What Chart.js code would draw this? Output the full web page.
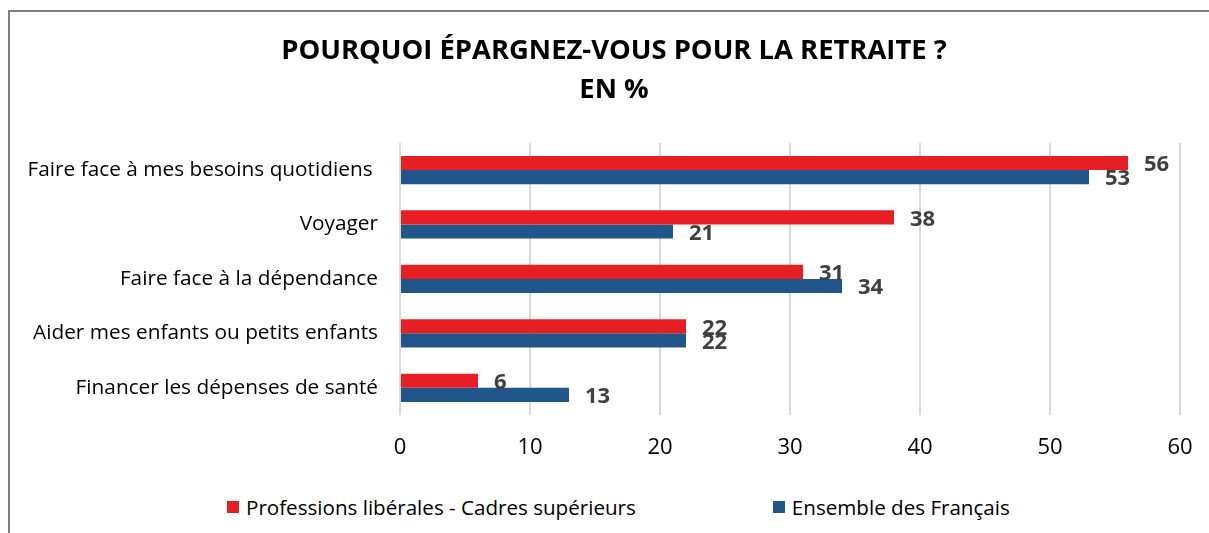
<!DOCTYPE html>
<html lang="fr">
<head>
    <meta charset="UTF-8">
    <title>Pourquoi épargnez-vous pour la retraite ?</title>
    <script src="https://cdn.jsdelivr.net/npm/chart.js"></script>
    <style>
        body {
            margin: 0;
            font-family: "Open Sans", Arial, sans-serif;
            background: #fff;
        }
        #wrap {
            position: relative;
            width: 1209px;
            height: 533px;
            overflow: hidden;
        }
        #frame {
            position: absolute;
            left: 8px;
            top: 10px;
            width: 1300px;
            height: 600px;
            border-left: 2px solid #7f7f7f;
            border-top: 2px solid #7f7f7f;
        }
        #chartBox {
            position: absolute;
            left: 0;
            top: 0;
            width: 1209px;
            height: 480px;
        }
        #legend {
            position: absolute;
            top: 493px;
            left: 227px;
            display: flex;
            gap: 137px;
            font-size: 20.6px;
            color: #000;
        }
        .item { display: flex; align-items: center; }
        .swatch { width: 12px; height: 12px; margin-right: 7px; }
    </style>
</head>
<body>
<div id="wrap">
    <div id="frame"></div>
    <div id="chartBox"><canvas id="retraiteChart"></canvas></div>
    <div id="legend"></div>
</div>

<script>
    const categories = [
        "Faire face à mes besoins quotidiens ",
        "Voyager",
        "Faire face à la dépendance",
        "Aider mes enfants ou petits enfants",
        "Financer les dépenses de santé"
    ];
    const seriesNames = ["Professions libérales - Cadres supérieurs", "Ensemble des Français"];
    const cadres = [56, 38, 31, 22, 6];
    const ensemble = [53, 21, 34, 22, 13];
    const xTicks = [0, 10, 20, 30, 40, 50, 60];
    const colors = ["#e81e25", "#21568a"];

    // valeurs affichées au bout des barres
    const valueLabels = {
        id: "valueLabels",
        afterDatasetsDraw(chart) {
            const ctx = chart.ctx;
            ctx.save();
            ctx.font = "bold 22px 'Open Sans'";
            ctx.fillStyle = "#404040";
            ctx.textAlign = "left";
            ctx.textBaseline = "middle";
            chart.data.datasets.forEach((ds, i) => {
                chart.getDatasetMeta(i).data.forEach((bar, j) => {
                    ctx.fillText(ds.data[j], bar.x + 16, bar.y + 2);
                });
            });
            ctx.restore();
        }
    };

    const ctx = document.getElementById("retraiteChart").getContext("2d");
    new Chart(ctx, {
        type: "bar",
        data: {
            labels: categories,
            datasets: [
                { label: seriesNames[0], data: cadres, backgroundColor: colors[0] },
                { label: seriesNames[1], data: ensemble, backgroundColor: colors[1] }
            ]
        },
        options: {
            indexAxis: "y",
            responsive: true,
            maintainAspectRatio: false,
            animation: false,
            layout: { padding: { left: 19, right: 0, top: 0, bottom: 0 } },
            datasets: {
                bar: { categoryPercentage: 0.52, barPercentage: 1.0 }
            },
            plugins: {
                legend: { display: false },
                tooltip: { enabled: false },
                title: {
                    display: true,
                    text: ["POURQUOI ÉPARGNEZ-VOUS POUR LA RETRAITE ?", "EN %"],
                    color: "#000",
                    font: { family: "'Open Sans'", size: 27.4, weight: "bold", lineHeight: 1.42 },
                    padding: { top: 32, bottom: 33 }
                }
            },
            scales: {
                x: {
                    min: 0,
                    max: 60,
                    afterBuildTicks: (scale) => { scale.ticks = xTicks.map(v => ({ value: v })); },
                    afterFit: (scale) => {
                        scale.height = 65;
                        scale.paddingRight = 29;
                    },
                    grid: { color: "#d9d9d9", lineWidth: 2, drawTicks: false },
                    border: { display: false },
                    ticks: {
                        color: "#000",
                        padding: 20,
                        font: { family: "'Open Sans'", size: 22 }
                    }
                },
                y: {
                    afterFit: (scale) => { scale.width = 381; },
                    grid: { display: false, drawTicks: false },
                    border: { display: false },
                    ticks: {
                        color: "#000",
                        padding: 22,
                        font: { family: "'Open Sans'", size: 20.8 }
                    }
                }
            }
        },
        plugins: [valueLabels]
    });

    const legend = document.getElementById("legend");
    seriesNames.forEach((name, i) => {
        const item = document.createElement("div");
        item.className = "item";
        const sw = document.createElement("span");
        sw.className = "swatch";
        sw.style.background = colors[i];
        item.appendChild(sw);
        item.appendChild(document.createTextNode(name));
        legend.appendChild(item);
    });
</script>
</body>
</html>
